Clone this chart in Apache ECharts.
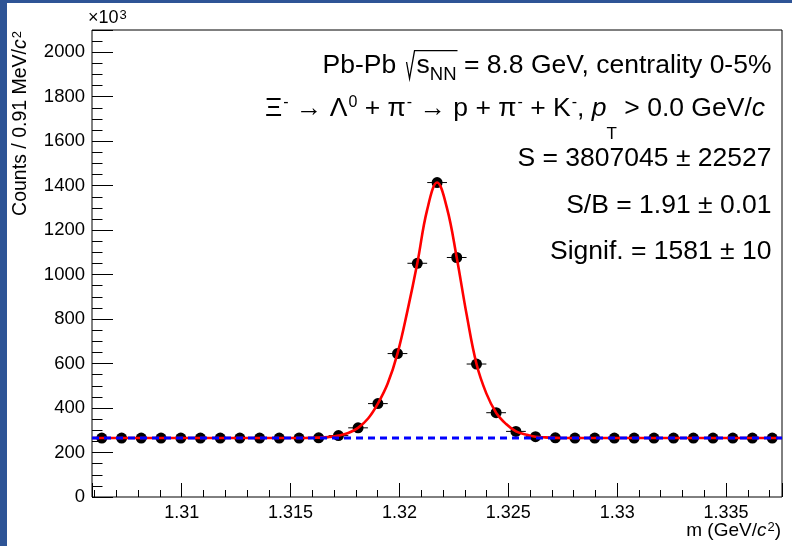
<!DOCTYPE html>
<html><head><meta charset="utf-8">
<script src="https://cdn.jsdelivr.net/npm/echarts@6/dist/echarts.min.js"></script>
<style>html,body{margin:0;padding:0;background:#fff}#c{width:792px;height:546px}</style>
</head><body><div id="c"></div>
<script>
// ---- data (counts in units of 10^3) ----
const massBins = [1.30633, 1.30724, 1.30814, 1.30905, 1.30996, 1.31086, 1.31177, 1.31267, 1.31358, 1.31448,
  1.31539, 1.31629, 1.3172, 1.3181, 1.31901, 1.31991, 1.32082, 1.32173, 1.32263, 1.32354,
  1.32444, 1.32535, 1.32625, 1.32716, 1.32806, 1.32897, 1.32987, 1.33078, 1.33169, 1.33259,
  1.3335, 1.3344, 1.33531, 1.33621, 1.33712];
const counts = [265, 265, 265, 265, 265, 265, 265, 265, 265, 265,
  265, 266, 276, 311, 420, 645, 1051, 1414, 1077, 598,
  379, 295, 271, 266, 265, 265, 265, 265, 265, 265,
  265, 265, 265, 265, 265];
const massHalfWidth = 0.000453;
const curveMass = [1.30588, 1.31448, 1.31539, 1.31584, 1.31629, 1.31675, 1.3172, 1.31765, 1.3181, 1.31856,
  1.31901, 1.31946, 1.31991, 1.32037, 1.32082, 1.32127, 1.32173, 1.32218, 1.32263, 1.32309,
  1.32354, 1.32399, 1.32444, 1.3249, 1.32535, 1.3258, 1.32625, 1.32671, 1.32716, 1.32761,
  1.32806, 1.33757];
const curveCounts = [265, 265, 265, 266, 267, 270, 276, 288, 311, 353,
  420, 510, 645, 838, 1051, 1290, 1414, 1300, 1077, 818,
  598, 466, 379, 328, 295, 281, 271, 268, 266, 265,
  265, 265];
const backgroundLevel = 265;
const massRange = [1.30588, 1.33757];
const countRange = [0, 2100];
const xTickLabels = ['1.31', '1.315', '1.32', '1.325', '1.33', '1.335'];
const yTickLabels = ['0', '200', '400', '600', '800', '1000', '1200', '1400', '1600', '1800', '2000'];

const FONT = 'Liberation Sans';
const BIG = 26.5;
const chart = echarts.init(document.getElementById('c'), null, {renderer: 'canvas'});

const ctx = document.createElement('canvas').getContext('2d');
function tw(s, size, italic) {
  ctx.font = (italic ? 'italic ' : '') + size + 'px "' + FONT + '"';
  return ctx.measureText(s).width;
}

// line 1 geometry (for the radical sign)
const L1right = 771.5;
const radW = 13;
const W1 = tw('Pb-Pb ', BIG) + radW + tw('s', BIG) + tw('NN', 18.5) + tw(' = 8.8 GeV, centrality 0-5%', BIG);
const l1x0 = L1right - W1;
const radStart = l1x0 + tw('Pb-Pb ', BIG);
const sStart = radStart + radW;
const nnEnd = sStart + tw('s', BIG) + tw('NN', 18.5);

const base = (sz, lh) => ({fontSize: sz, lineHeight: lh, verticalAlign: 'top', fontFamily: FONT, color: '#000'});
const bigFont = BIG + 'px "' + FONT + '"';

const option = {
  animation: false,
  backgroundColor: '#fff',
  grid: {left: 92, top: 30, width: 690, height: 467, show: true, borderColor: '#000', borderWidth: 1, backgroundColor: 'transparent'},
  xAxis: {
    type: 'value', min: massRange[0], max: massRange[1], minInterval: 0.005, maxInterval: 0.005,
    axisLine: {show: false},
    axisTick: {show: true, inside: true, length: 14, lineStyle: {color: '#000', width: 1}},
    minorTick: {show: true, splitNumber: 5, length: 7, lineStyle: {color: '#000', width: 1}},
    splitLine: {show: false}, minorSplitLine: {show: false},
    axisLabel: {
      fontSize: 18, fontFamily: FONT, color: '#000', margin: 7,
      formatter: v => { const s = parseFloat(v.toFixed(4)).toString(); return xTickLabels.includes(s) ? s : ''; }
    }
  },
  yAxis: {
    type: 'value', min: countRange[0], max: countRange[1], interval: 200,
    axisLine: {show: false},
    axisTick: {show: true, inside: true, length: 21, lineStyle: {color: '#000', width: 1}},
    minorTick: {show: true, splitNumber: 4, length: 10.5, lineStyle: {color: '#000', width: 1}},
    splitLine: {show: false}, minorSplitLine: {show: false},
    axisLabel: {
      fontSize: 18.5, fontFamily: FONT, color: '#000', margin: 7,
      formatter: v => { const s = String(Math.round(v)); return yTickLabels.includes(s) ? s : ''; }
    }
  },
  series: [
    {
      type: 'custom', z: 2,
      data: massBins.map((m, i) => [m, counts[i]]),
      encode: {x: 0, y: 1},
      renderItem: (params, api) => {
        const x = api.value(0), y = api.value(1);
        const p1 = api.coord([x - massHalfWidth, y]);
        const p2 = api.coord([x + massHalfWidth, y]);
        return {type: 'line', shape: {x1: p1[0], y1: p1[1], x2: p2[0], y2: p2[1]}, style: {stroke: '#000', lineWidth: 1}};
      }
    },
    {
      type: 'scatter', z: 3, symbol: 'circle', symbolSize: 11,
      itemStyle: {color: '#000', opacity: 1},
      data: massBins.map((m, i) => [m, counts[i]])
    },
    {
      type: 'line', z: 4, smooth: 0.4, showSymbol: false, symbol: 'none',
      lineStyle: {color: '#ff0000', width: 2.6},
      data: curveMass.map((m, i) => [m, curveCounts[i]])
    },
    {
      type: 'line', z: 5, showSymbol: false, symbol: 'none',
      lineStyle: {color: '#0000ff', width: 3, type: [7, 5]},
      data: [[massRange[0], backgroundLevel], [massRange[1], backgroundLevel]]
    }
  ],
  graphic: [
    {type: 'rect', shape: {x: 0, y: 0, width: 7, height: 546}, style: {fill: '#2E5496'}, silent: true},
    {type: 'rect', shape: {x: 0, y: 0, width: 792, height: 3}, style: {fill: '#2E5496'}, silent: true},
    // x10^3
    {type: 'text', x: 88, y: 9, style: {
      text: '{b|×10}{s|3}', align: 'left', textAlign: 'left', verticalAlign: 'top', textVerticalAlign: 'top',
      rich: {b: base(18, 24), s: Object.assign(base(13, 13), {padding: [0, 0, 0, 1]})}
    }},
    // y axis title
    {type: 'text', x: 21.5, y: 31, rotation: Math.PI / 2, style: {
      text: '{b|Counts / 0.91 MeV/}{i|c}{s|2}', align: 'right', textAlign: 'right', verticalAlign: 'middle', textVerticalAlign: 'middle',
      rich: {b: base(19.5, 22), i: Object.assign(base(19.5, 22), {fontStyle: 'italic'}), s: Object.assign(base(13, 13), {padding: [0, 0, 0, 1]})}
    }},
    // x axis title
    {type: 'text', x: 781, y: 521, style: {
      text: '{b|m (GeV/}{i|c}{s|2}{b|)}', align: 'right', textAlign: 'right', verticalAlign: 'top', textVerticalAlign: 'top',
      rich: {b: base(19, 22), i: Object.assign(base(19, 22), {fontStyle: 'italic'}), s: Object.assign(base(13, 13), {padding: [0, 0, 0, 1]})}
    }},
    // line 1
    {type: 'text', x: L1right, y: 52, style: {
      text: '{b|Pb-Pb }{r| }{b|s}{sn|NN}{b| = 8.8 GeV, centrality 0-5%}', align: 'right', textAlign: 'right', verticalAlign: 'top', textVerticalAlign: 'top',
      rich: {b: base(BIG, 34), r: Object.assign(base(BIG, 34), {width: radW}), sn: Object.assign(base(18.5, 18), {padding: [13, 0, 0, 0]})}
    }},
    {type: 'polyline', shape: {points: [[radStart + 3, 62], [radStart + 6, 78.5], [sStart - 2, 50.7], [nnEnd + 1, 50.7]]},
      style: {stroke: '#000', lineWidth: 1.3, fill: null}, silent: true},
    // line 2
    {type: 'text', x: 765, y: 94.7, style: {
      text: '{b|Ξ}{m|-}{b| → Λ}{sup|0}{b| + π}{m|-}{b| → p + π}{m|-}{b| + K}{m|-}{b|, }{i|p}{sub|T}{b| > 0.0 GeV/}{i|c}',
      align: 'right', textAlign: 'right', verticalAlign: 'top', textVerticalAlign: 'top',
      rich: {
        b: base(BIG, 34), i: Object.assign(base(BIG, 34), {fontStyle: 'italic'}),
        m: Object.assign(base(16, 16), {padding: [0, 0, 0, 1]}),
        sup: Object.assign(base(16, 16), {padding: [0, 0, 0, 1]}),
        sub: Object.assign(base(17, 16), {padding: [31, 0, 0, 0]})
      }
    }},
    // lines 3-5
    {type: 'text', x: 771.5, y: 158.5, style: {text: 'S = 3807045 ± 22527', font: bigFont, fill: '#000', align: 'right', textAlign: 'right', verticalAlign: 'middle', textVerticalAlign: 'middle'}},
    {type: 'text', x: 771.5, y: 206, style: {text: 'S/B = 1.91 ± 0.01', font: bigFont, fill: '#000', align: 'right', textAlign: 'right', verticalAlign: 'middle', textVerticalAlign: 'middle'}},
    {type: 'text', x: 771.5, y: 251.5, style: {text: 'Signif. = 1581 ± 10', font: bigFont, fill: '#000', align: 'right', textAlign: 'right', verticalAlign: 'middle', textVerticalAlign: 'middle'}}
  ]
};
chart.setOption(option);
</script></body></html>
